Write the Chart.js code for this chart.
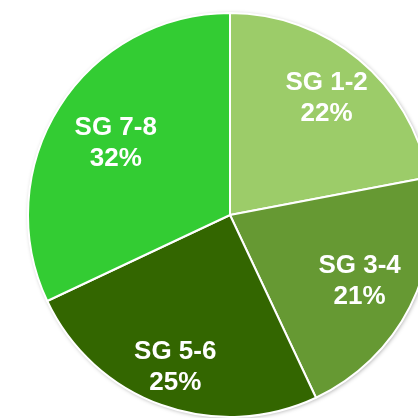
<!DOCTYPE html>
<html lang="en">
<head>
  <meta charset="UTF-8">
  <title>SG Pie</title>
  <script src="https://cdn.jsdelivr.net/npm/chart.js"></script>
  <style>
    body { margin: 0; padding: 0; background: white; overflow: hidden; width: 418px; height: 418px; }
    #wrap { position: absolute; left: 0; top: 0; }
  </style>
</head>
<body>
  <div id="wrap"><canvas id="pie" width="460" height="430"></canvas></div>
  <script>
    const groups = ['SG 1-2', 'SG 3-4', 'SG 5-6', 'SG 7-8'];
    const shares = [22, 21, 25, 32];
    const colors = ['#9ccc69', '#669933', '#336600', '#33cc33'];
    // how far out each label sits, as a fraction of the radius
    const labelDist = [0.75, 0.72, 0.80, 0.67];

    const sliceLabels = {
      id: 'sliceLabels',
      afterDatasetsDraw(chart) {
        const ctx = chart.ctx;
        const meta = chart.getDatasetMeta(0);
        ctx.save();
        ctx.fillStyle = '#ffffff';
        ctx.font = 'bold 26px "Liberation Sans", Arial, sans-serif';
        ctx.textAlign = 'center';
        ctx.textBaseline = 'middle';
        meta.data.forEach((arc, i) => {
          const mid = (arc.startAngle + arc.endAngle) / 2;
          const r = arc.outerRadius * labelDist[i];
          const x = arc.x + Math.cos(mid) * r;
          const y = arc.y + Math.sin(mid) * r;
          ctx.fillText(groups[i], x, y - 15);
          ctx.fillText(shares[i] + '%', x, y + 16);
        });
        ctx.restore();
      }
    };

    // soft shadow round the whole pie, drawn once behind the slices
    const shadow = {
      id: 'shadow',
      beforeDatasetsDraw(chart) {
        const arc = chart.getDatasetMeta(0).data[0];
        if (!arc) return;
        const ctx = chart.ctx;
        ctx.save();
        ctx.shadowColor = 'rgba(0,0,0,0.35)';
        ctx.shadowBlur = 4;
        ctx.shadowOffsetX = 1;
        ctx.shadowOffsetY = 1;
        ctx.fillStyle = '#ffffff';
        ctx.beginPath();
        ctx.arc(arc.x, arc.y, arc.outerRadius, 0, Math.PI * 2);
        ctx.fill();
        ctx.restore();
      }
    };

    new Chart(document.getElementById('pie'), {
      type: 'pie',
      data: {
        labels: groups,
        datasets: [{ data: shares, backgroundColor: colors, borderColor: '#ffffff', borderWidth: 2 }]
      },
      options: {
        responsive: false,
        animation: false,
        layout: { padding: { left: 27, right: 27, top: 12, bottom: 12 } },
        plugins: { legend: { display: false }, tooltip: { enabled: false } }
      },
      plugins: [shadow, sliceLabels]
    });
  </script>
</body>
</html>
